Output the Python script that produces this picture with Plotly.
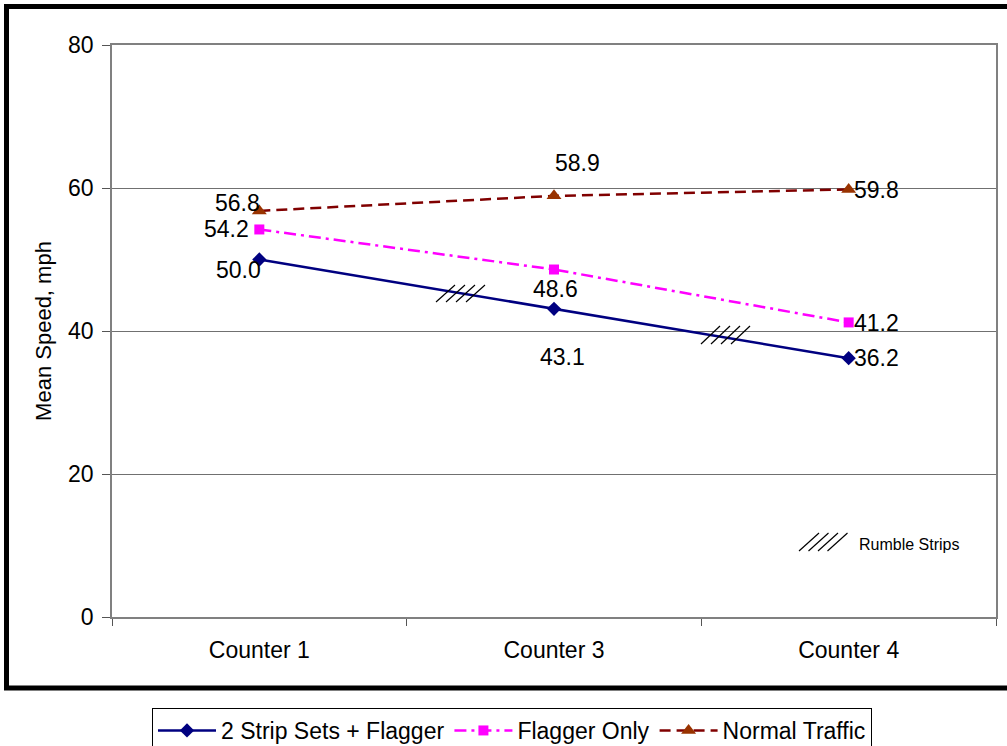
import plotly.graph_objects as go

categories = ["Counter 1", "Counter 3", "Counter 4"]
strip_flagger = [50.0, 43.1, 36.2]
flagger_only = [54.2, 48.6, 41.2]
normal_traffic = [56.8, 58.9, 59.8]
series_names = ["2 Strip Sets + Flagger", "Flagger Only", "Normal Traffic"]
y_ticks = [0, 20, 40, 60, 80]

FONT = "Liberation Sans, Arial, sans-serif"
W, H = 1007, 746
# plot area in page pixels
PL, PR, PT, PB = 112, 996, 45, 617
L, T = PL, PT
R, B = W - PR, H - PB
PW, PH = PR - PL, PB - PT


def px(x):  # page pixel -> paper
    return (x - PL) / PW


def py(y):
    return (PB - y) / PH


fig = go.Figure()
fig.add_trace(go.Scatter(x=categories, y=strip_flagger, name=series_names[0], mode="lines+markers",
                         line=dict(color="#000080", width=2.5),
                         marker=dict(symbol="diamond", size=11, color="#000080")))
fig.add_trace(go.Scatter(x=categories, y=flagger_only, name=series_names[1], mode="lines+markers",
                         line=dict(color="#FF00FF", width=2.5, dash="12px,5px,3px,5px"),
                         marker=dict(symbol="square", size=10, color="#FF00FF")))
fig.add_trace(go.Scatter(x=categories, y=normal_traffic, name=series_names[2], mode="lines+markers",
                         line=dict(color="#800000", width=2.5, dash="11px,6px"),
                         marker=dict(symbol="triangle-up", size=13, color="#993300")))

# data labels with per-label offsets (pixels)
offsets = {
    0: [(-21, -10), (8, -48), (28, 0)],
    1: [(-33, 0), (1, -19), (28, -1)],
    2: [(-22, 8), (23, 33), (28, -1)],
}
series_vals = [strip_flagger, flagger_only, normal_traffic]
for si, vals in enumerate(series_vals):
    for ci, v in enumerate(vals):
        dx, dy = offsets[si][ci]
        fig.add_annotation(x=categories[ci], y=v, text=f"{v:.1f}", showarrow=False,
                           xshift=dx, yshift=dy, font=dict(family=FONT, size=23, color="black"))

# rumble strip hatch marks
def hatch(x0, y0, dx, dy, step, n=4):
    for i in range(n):
        fig.add_shape(type="line", xref="paper", yref="paper",
                      x0=px(x0 + step * i), y0=py(y0), x1=px(x0 + dx + step * i), y1=py(y0 - dy),
                      line=dict(color="black", width=1.2))


hatch(436, 302, 19, 17, 10)
hatch(701, 344, 19, 18, 10)
hatch(799, 551, 20, 18, 9.5)
fig.add_annotation(xref="paper", yref="paper", x=px(857), y=py(544), xanchor="left", yanchor="middle",
                   text="Rumble Strips", showarrow=False, font=dict(family=FONT, size=16, color="black"))

# outer frame
fig.add_shape(type="rect", xref="paper", yref="paper", x0=px(6.5), x1=px(1020), y0=py(688), y1=py(6.5),
              line=dict(color="black", width=5), layer="above")

fig.update_layout(
    width=W, height=H,
    margin=dict(l=L, r=R, t=T, b=B, autoexpand=False),
    paper_bgcolor="white", plot_bgcolor="white",
    font=dict(family=FONT, size=23, color="black"),
    showlegend=True,
    legend=dict(orientation="h", x=px(512), xanchor="center", y=py(708), yanchor="top",
                bordercolor="black", borderwidth=1, bgcolor="white",
                font=dict(family=FONT, size=23, color="black"), itemwidth=58,
                tracegroupgap=0),
    xaxis=dict(type="category", range=[-0.5, 2.5], tickson="boundaries", ticks="outside", ticklen=7,
               tickcolor="#555", showline=True, linecolor="#808080", linewidth=1.5, mirror=True,
               showgrid=False, tickfont=dict(family=FONT, size=23), ticklabelstandoff=12),
    yaxis=dict(range=[0, 80], tickvals=y_ticks, ticks="outside", ticklen=8, tickcolor="#555",
               showline=True, linecolor="#808080", linewidth=1.5, mirror=True,
               showgrid=True, gridcolor="#707070", gridwidth=1, zeroline=False,
               tickfont=dict(family=FONT, size=23), ticklabelstandoff=4,
               title=dict(text="Mean Speed, mph", font=dict(family=FONT, size=22), standoff=10)),
)

fig.write_html("out.html", config={"displayModeBar": False},
               post_script="document.body.style.margin='0';document.body.style.overflow='hidden';")
